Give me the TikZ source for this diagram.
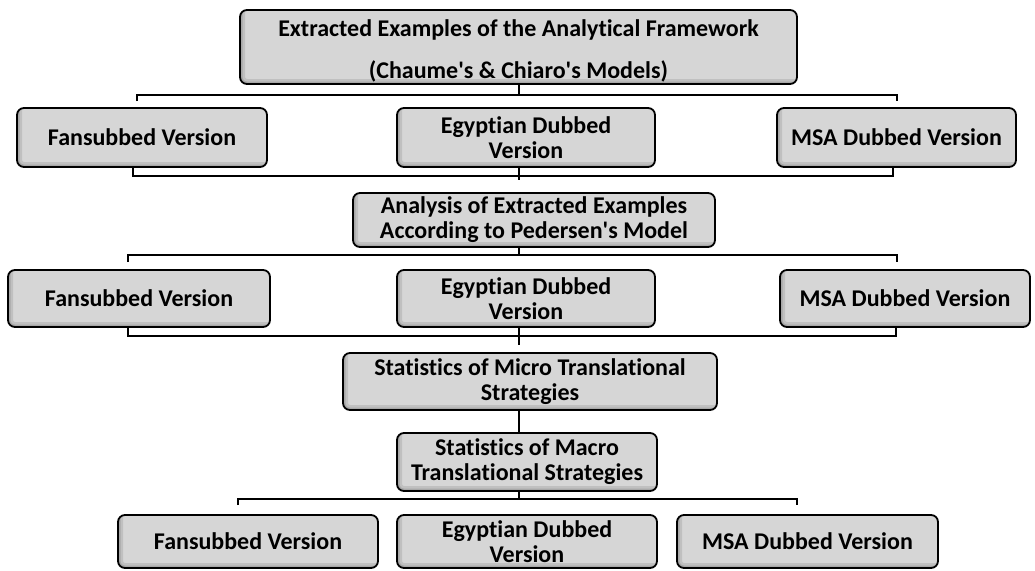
\documentclass[tikz,border=0pt]{standalone}
\usepackage{fontspec}
\setmainfont[Ligatures=NoCommon]{Carlito}
\tikzset{
  boxfont/.style={font=\bfseries\fontsize{24}{25}\selectfont, align=center, inner sep=0pt},
  box/.style={draw=black, line width=1.8pt, rounded corners=7pt, fill=gray!32, boxfont,
    path picture={
      \draw[line width=10pt, black, opacity=0.10]
        (path picture bounding box.north west) -- (path picture bounding box.south west)
        -- (path picture bounding box.south east);
      \draw[line width=5pt, black, opacity=0.12]
        (path picture bounding box.north west) -- (path picture bounding box.south west)
        -- (path picture bounding box.south east);
    }},
  conn/.style={draw=black, line width=1.8pt}
}
\begin{document}
\begin{tikzpicture}[x=1pt,y=-1pt]
\useasboundingbox (0,0) rectangle (1035,570);
% level 0
\node[box, minimum width=557pt, minimum height=74pt] (top) at (518.5,47) {};
\node[boxfont] (toptext) at (518.5,51)
  {Extracted Examples of the Analytical Framework\\[17pt](Chaume\textquotesingle s \& Chiaro\textquotesingle s Models)};
% row 1
\node[box, minimum width=250pt, minimum height=59pt] (f1) at (142,137.5) {Fansubbed Version};
\node[box, minimum width=258pt, minimum height=59pt] (e1) at (526,137.5) {Egyptian Dubbed\\Version};
\node[box, minimum width=239pt, minimum height=59pt] (m1) at (896.5,137.5) {MSA Dubbed Version};
% analysis
\node[box, minimum width=362pt, minimum height=54pt] (an) at (534,220) {Analysis of Extracted Examples\\According to Pedersen\textquotesingle s Model};
% row 2
\node[box, minimum width=262pt, minimum height=57pt] (f2) at (139,298.5) {Fansubbed Version};
\node[box, minimum width=258pt, minimum height=57pt] (e2) at (526,298.5) {Egyptian Dubbed\\Version};
\node[box, minimum width=250pt, minimum height=57pt] (m2) at (905,298.5) {MSA Dubbed Version};
% micro / macro
\node[box, minimum width=374pt, minimum height=57pt] (mi) at (530,381.5) {Statistics of Micro Translational\\Strategies};
\node[box, minimum width=260pt, minimum height=58pt] (ma) at (527,462) {Statistics of Macro\\Translational Strategies};
% row 3
\node[box, minimum width=260pt, minimum height=53pt] (f3) at (248,541.5) {Fansubbed Version};
\node[box, minimum width=260pt, minimum height=53pt] (e3) at (527,541.5) {Egyptian Dubbed\\Version};
\node[box, minimum width=261pt, minimum height=53pt] (m3) at (807.5,541.5) {MSA Dubbed Version};

% connector coordinates
\coordinate (b1l) at (137,101);
\coordinate (b1r) at (897,101);
\coordinate (b2l) at (128,262);
\coordinate (b2r) at (897,262);
\coordinate (b3l) at (238,505);
\coordinate (b3r) at (797,505);
\coordinate (c1) at (519,180);
\coordinate (c2) at (519,345);

% top bus
\draw[conn] (top.south -| 519,0) -- (519,95);
\draw[conn] (b1l) -- (137,95) -- (897,95) -- (b1r);
% row1 join
\draw[conn] (f1.south -| 133,0) -- (133,176) -- (893,176) -- (m1.south -| 893,0);
\draw[conn] (e1.south -| 519,0) -- (c1);
% analysis bus
\draw[conn] (an.south -| 519,0) -- (519,255);
\draw[conn] (b2l) -- (128,255) -- (897,255) -- (b2r);
% row2 join
\draw[conn] (f2.south -| 128,0) -- (128,336) -- (896,336) -- (m2.south -| 896,0);
\draw[conn] (e2.south -| 519,0) -- (c2);
% micro to macro
\draw[conn] (mi.south -| 519,0) -- (ma.north -| 519,0);
% macro bus
\draw[conn] (ma.south -| 519,0) -- (519,499);
\draw[conn] (b3l) -- (238,499) -- (797,499) -- (b3r);
\end{tikzpicture}
\end{document}
